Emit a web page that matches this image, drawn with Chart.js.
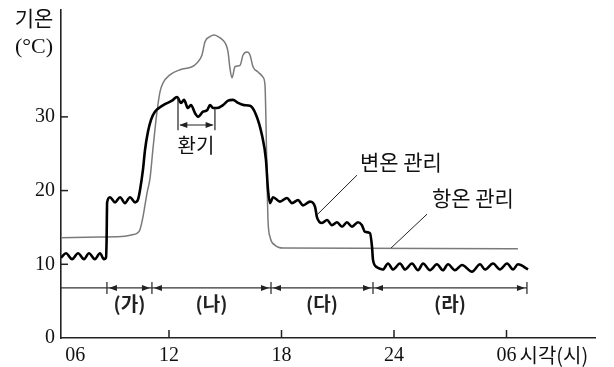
<!DOCTYPE html>
<html>
<head>
<meta charset="utf-8">
<script src="https://cdn.jsdelivr.net/npm/chart.js@4.4.0/dist/chart.umd.min.js"></script>
<style>
  html, body { margin: 0; padding: 0; background: #fff; }
</style>
</head>
<body>
<canvas id="myChart" width="614" height="367"></canvas>
<script>
// 변온 관리 (black line): hour of day (24+ = next day), temperature
var varHours = [6.24, 6.51, 6.83, 7.15, 7.47, 7.73, 8.05, 8.32, 8.53, 8.64,
    8.67, 8.70, 8.85, 9.12, 9.39, 9.65, 9.92, 10.19, 10.35,
    10.45, 10.61, 10.72, 10.88, 11.04, 11.25, 11.52, 11.84, 12.16, 12.43,
    12.64, 12.80, 13.01, 13.17, 13.39, 13.55, 13.81, 14.03, 14.19, 14.35, 14.56, 14.88, 15.15, 15.41, 15.68, 16.00, 16.32, 16.64,
    16.96, 17.17, 17.28, 17.39,
    17.55, 17.92, 18.29, 18.56, 18.88, 19.15, 19.52, 19.79, 19.89, 20.16, 20.43, 20.69, 20.96, 21.23, 21.49, 21.76, 22.08, 22.29, 22.45, 22.72,
    22.83, 22.88, 23.09, 23.25, 23.41, 23.68, 23.95, 24.32, 24.59, 24.96, 25.28, 25.55, 25.92, 26.29, 26.61, 26.88, 27.25, 27.63, 28.16, 28.59, 28.85, 29.28, 29.65, 30.03, 30.35, 30.61, 31.15];
var varTemps = [10.9, 11.5, 10.7, 11.5, 10.7, 11.5, 10.7, 11.5, 10.7, 10.9,
    13.0, 18.4, 19.1, 18.4, 19.1, 18.3, 19.1, 18.4, 18.8,
    20.0, 22.8, 25.5, 28.0, 29.6, 30.7, 31.3, 31.8, 32.2, 32.7,
    31.9, 32.3, 31.2, 31.6, 30.5, 30.0, 30.7, 30.9, 31.6, 31.2, 31.2, 31.6, 32.2, 32.3, 31.9, 31.6, 31.5, 30.3,
    27.5, 24.2, 20.1, 18.3,
    19.1, 18.5, 19.0, 18.3, 18.7, 18.0, 18.5, 17.8, 16.4, 15.6, 16.0, 15.3, 15.7, 15.1, 15.7, 15.1, 15.7, 15.3, 14.4, 14.2,
    12.3, 10.6, 9.6, 9.4, 9.3, 10.1, 9.3, 10.1, 9.3, 10.1, 9.2, 10.1, 9.2, 10.0, 9.2, 10.0, 9.2, 9.9, 9.0, 10.0, 9.3, 10.1, 9.3, 10.1, 9.3, 10.0, 9.3];

// 항온 관리 (grey line)
var constHours = [6.24, 8.32, 9.65, 10.03, 10.29, 10.45, 10.61, 10.83, 10.99, 11.15,
    11.36, 11.52, 11.68, 12.05, 12.59, 13.23, 13.49, 13.76, 13.92, 14.19,
    14.40, 14.62, 14.88, 15.04, 15.15, 15.25, 15.36, 15.52, 15.79, 15.95,
    16.16, 16.32, 16.48, 16.75, 17.01, 17.12, 17.17, 17.23, 17.28, 17.39,
    17.65, 18.08, 30.61];
var constTemps = [13.6, 13.7, 13.8, 14.0, 14.2, 14.7, 16.4, 19.7, 21.7, 25.8,
    30.7, 33.4, 34.6, 35.7, 36.4, 36.8, 37.3, 38.4, 40.2, 40.9,
    41.1, 40.9, 40.4, 39.8, 38.8, 36.6, 35.3, 36.8, 37.0, 38.4,
    38.8, 38.4, 36.8, 36.1, 35.4, 34.3, 29.6, 21.4, 16.0, 13.7,
    12.6, 12.2, 12.1];

var yTicks = [0, 10, 20, 30];
var xTicks = [7, 12, 18, 24, 30];          // first label sits just right of the axis
var xTickLabels = ['06', '12', '18', '24', '06'];
var phaseBounds = [8.69, 11.09, 17.44, 22.88, 31.09];
var phaseLabels = ['(가)', '(나)', '(다)', '(라)'];

var serif = '"Liberation Serif", "DejaVu Serif", serif';
var kr = '"Noto Sans CJK KR", "Noto Sans", sans-serif';

function toPoints(xs, ys) {
    return xs.map(function (x, i) { return { x: x, y: ys[i] }; });
}

function arrowHead(ctx, x, y, dir) {
    ctx.beginPath();
    ctx.moveTo(x, y);
    ctx.lineTo(x - dir * 8, y - 3);
    ctx.lineTo(x - dir * 8, y + 3);
    ctx.closePath();
    ctx.fill();
}

function noPad(s) {
    s.paddingTop = 0; s.paddingBottom = 0; s.paddingLeft = 0; s.paddingRight = 0;
}

var decor = {
    id: 'decor',
    afterDatasetsDraw: function (chart) {
        var ctx = chart.ctx;
        var xs = chart.scales.x, ys = chart.scales.y;
        var X = function (v) { return xs.getPixelForValue(v); };
        var Y = function (v) { return ys.getPixelForValue(v); };
        var left = chart.chartArea.left, bottom = chart.chartArea.bottom;

        ctx.save();
        // tick marks pointing inward
        ctx.strokeStyle = '#222';
        ctx.lineWidth = 1.5;
        [12, 18, 24, 30].forEach(function (v) {
            ctx.beginPath(); ctx.moveTo(X(v), bottom); ctx.lineTo(X(v), bottom - 8); ctx.stroke();
        });
        [10, 20, 30].forEach(function (v) {
            ctx.beginPath(); ctx.moveTo(left, Y(v)); ctx.lineTo(left + 7, Y(v)); ctx.stroke();
        });

        // phase row (가)~(라)
        var py = Y(6.8);
        ctx.strokeStyle = '#333';
        ctx.fillStyle = '#222';
        ctx.lineWidth = 1.3;
        ctx.beginPath(); ctx.moveTo(left, py); ctx.lineTo(X(phaseBounds[phaseBounds.length - 1]), py); ctx.stroke();
        phaseBounds.forEach(function (b) {
            ctx.beginPath(); ctx.moveTo(X(b), py - 6); ctx.lineTo(X(b), py + 6); ctx.stroke();
        });
        ctx.font = 'bold 19px ' + kr;
        ctx.textAlign = 'center';
        ctx.textBaseline = 'middle';
        for (var i = 0; i < phaseLabels.length; i++) {
            var a = X(phaseBounds[i]), b = X(phaseBounds[i + 1]);
            arrowHead(ctx, a + 2, py, -1);
            arrowHead(ctx, b - 2, py, 1);
            ctx.fillText(phaseLabels[i], (a + b) / 2, Y(4.6));
        }

        // 환기 (ventilation) marker
        ctx.strokeStyle = '#222';
        ctx.lineWidth = 1.2;
        ctx.beginPath();
        ctx.moveTo(X(12.48), Y(32.6)); ctx.lineTo(X(12.48), Y(28.2));
        ctx.moveTo(X(14.45), Y(31.2)); ctx.lineTo(X(14.45), Y(28.2));
        ctx.moveTo(X(12.6), Y(28.9)); ctx.lineTo(X(14.33), Y(28.9));
        ctx.stroke();
        arrowHead(ctx, X(12.55), Y(28.9), -1);
        arrowHead(ctx, X(14.38), Y(28.9), 1);
        ctx.font = '20px ' + kr;
        ctx.fillStyle = '#111';
        ctx.fillText('환기', X(13.44), Y(26.1));

        // series labels with leader lines
        ctx.lineWidth = 1;
        ctx.beginPath();
        ctx.moveTo(X(22.03), Y(22.1)); ctx.lineTo(X(19.89), Y(16.7));
        ctx.moveTo(X(25.76), Y(16.8)); ctx.lineTo(X(23.84), Y(12.2));
        ctx.stroke();
        ctx.font = '21px ' + kr;
        ctx.fillText('변온 관리', X(24.37), Y(23.9));
        ctx.fillText('항온 관리', X(28.21), Y(19.0));

        // axis titles
        ctx.fillText('기온', left - 27, 18);
        ctx.font = '22px ' + serif;
        ctx.fillText('(°C)', left - 27, 47);
        ctx.font = '20px ' + kr;
        ctx.textAlign = 'left';
        ctx.fillText('시각(시)', X(30) + 13, 355);
        ctx.restore();
    }
};

var ctx = document.getElementById('myChart').getContext('2d');
var chart = new Chart(ctx, {
    type: 'line',
    data: {
        datasets: [{
            label: '변온 관리',
            data: toPoints(varHours, varTemps),
            borderColor: '#000',
            borderWidth: 2.6,
            pointRadius: 0,
            cubicInterpolationMode: 'monotone',
            fill: false
        }, {
            label: '항온 관리',
            data: toPoints(constHours, constTemps),
            borderColor: '#7a7a7a',
            borderWidth: 1.5,
            pointRadius: 0,
            cubicInterpolationMode: 'monotone',
            fill: false
        }]
    },
    options: {
        responsive: false,
        animation: false,
        layout: { padding: { top: 10, right: 19, left: 0, bottom: 0 } },
        plugins: { legend: { display: false }, tooltip: { enabled: false } },
        scales: {
            x: {
                type: 'linear',
                min: 6.24,
                max: 34.72,
                grid: { display: false, drawTicks: false },
                border: { display: true, color: '#222', width: 1.6 },
                afterBuildTicks: function (s) { s.ticks = xTicks.map(function (v) { return { value: v }; }); },
                afterFit: function (s) { s.height = 29; noPad(s); },
                ticks: {
                    autoSkip: false,
                    maxRotation: 0,
                    padding: 6,
                    color: '#111',
                    font: { family: serif, size: 20 },
                    callback: function (v, i) { return xTickLabels[i]; }
                }
            },
            y: {
                min: 0,
                max: 44.5,
                grid: { display: false, drawTicks: false },
                border: { display: true, color: '#222', width: 1.6 },
                afterBuildTicks: function (s) { s.ticks = yTicks.map(function (v) { return { value: v }; }); },
                afterFit: function (s) { s.width = 61; noPad(s); },
                ticks: {
                    padding: 6,
                    color: '#111',
                    font: { family: serif, size: 20 },
                    callback: function (v) { return String(v); }
                }
            }
        }
    },
    plugins: [decor]
});
</script>
</body>
</html>
